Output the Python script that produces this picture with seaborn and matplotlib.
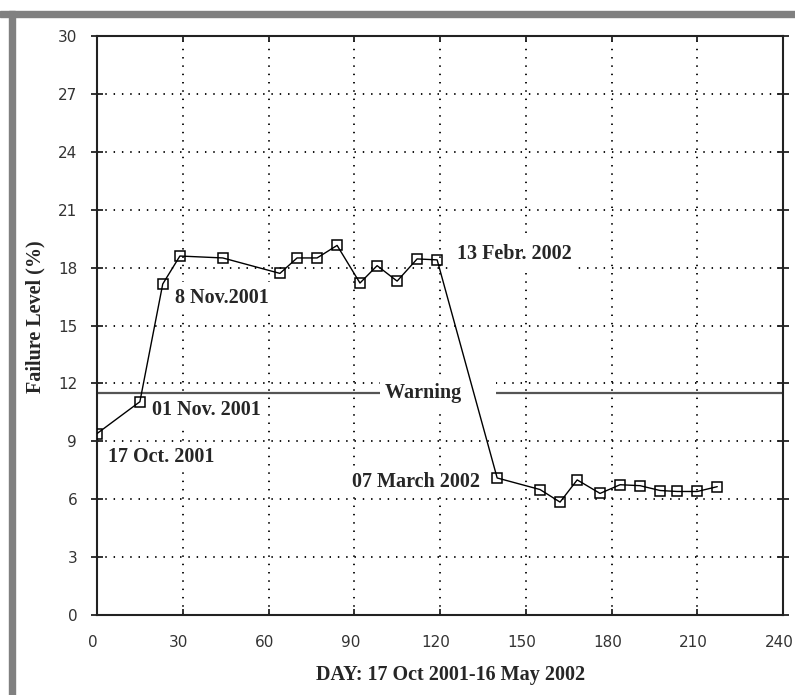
import matplotlib
matplotlib.use("Agg")
import matplotlib.pyplot as plt
import matplotlib.transforms as mtransforms
from matplotlib.patches import Rectangle
import seaborn as sns
import pandas as pd

# ---- data ----
days = [0, 15, 23, 29, 44, 64, 70, 77, 84, 92, 98, 105, 112, 119,
        140, 155, 162, 168, 176, 183, 190, 197, 203, 210, 217]
failure = [9.4, 11.05, 17.15, 18.6, 18.5, 17.7, 18.5, 18.5, 19.15, 17.2, 18.1, 17.3, 18.45, 18.4,
           7.1, 6.5, 5.85, 7.0, 6.3, 6.75, 6.7, 6.45, 6.4, 6.4, 6.65]
warning_level = 11.5
x_ticks = [0, 30, 60, 90, 120, 150, 180, 210, 240]
y_ticks = [0, 3, 6, 9, 12, 15, 18, 21, 24, 27, 30]
annotations = [
    ("8 Nov.2001", 27.3, 16.45),
    ("13 Febr. 2002", 126.0, 18.7),
    ("01 Nov. 2001", 19.2, 10.6),
    ("17 Oct. 2001", 3.8, 8.2),
    ("07 March 2002", 89.2, 6.9),
]
warning_label = ("Warning", 100.8, 11.5)
x_label = "DAY: 17 Oct 2001-16 May 2002"
y_label = "Failure Level (%)"

df = pd.DataFrame({"day": days, "failure": failure})

sns.set_style("ticks")
plt.rcParams["font.family"] = ["DejaVu Sans"]

fig = plt.figure(figsize=(7.95, 6.95), dpi=100)
fig.patch.set_facecolor("white")
ax = fig.add_axes([97/795, 1-615/695, (783-97)/795, (615-36)/695])

serif = "Liberation Serif"

# warning line with a gap around its label
ax.axhline(warning_level, color="#555555", lw=1.6, zorder=2)
ax.text(warning_label[1], warning_label[2], warning_label[0] + "      ",
        ha="left", va="center",
        fontsize=14.5, fontweight="bold", family=serif, zorder=2.5,
        bbox=dict(boxstyle="square,pad=0.25", fc="white", ec="none"))

sns.lineplot(data=df, x="day", y="failure", ax=ax, color="black", lw=1.0,
             marker="s", markersize=7.8, markerfacecolor="none",
             markeredgecolor="black", markeredgewidth=1.1, zorder=3)

for txt, x, y in annotations:
    ax.text(x, y, txt, ha="left", va="center", fontsize=14.5, fontweight="bold",
            family=serif, zorder=2.5,
            bbox=dict(boxstyle="square,pad=0.25", fc="white", ec="none"))

ax.set_xlim(0, 240)
ax.set_ylim(0, 30)
ax.set_xticks(x_ticks)
ax.set_yticks(y_ticks)
ax.grid(True, color="black", linestyle=(0, (0.8, 3.8)), lw=1.3, zorder=1)
ax.set_axisbelow(True)

for s in ax.spines.values():
    s.set_visible(True)
    s.set_linewidth(1.5)
    s.set_color("#222222")

ax.tick_params(axis="x", which="both", direction="in", length=4, width=1.3,
               pad=14.4, labelsize=11, labelcolor="#333333", top=True, color="#222222")
ax.tick_params(axis="y", which="both", direction="inout", length=8.6, width=1.3,
               pad=10, labelsize=11, labelcolor="#333333", right=True, color="#222222")

shift = mtransforms.ScaledTranslation(-4/100, 0, fig.dpi_scale_trans)
for lab in ax.get_xticklabels():
    lab.set_transform(lab.get_transform() + shift)

ax.set_xlabel(x_label, fontsize=14.5, fontweight="bold", family=serif)
ax.set_ylabel(y_label, fontsize=14.5, fontweight="bold", family=serif)
ax.xaxis.set_label_coords(0.515, -0.1036)
ax.xaxis.label.set_verticalalignment("center")
ax.yaxis.set_label_coords(-0.0904, 0.515)
ax.yaxis.label.set_verticalalignment("center")

# gray frame (top and left)
fig.patches.append(Rectangle((0, 1-17/695), 1, 6/695, transform=fig.transFigure,
                             color="#808080", zorder=0))
fig.patches.append(Rectangle((9/795, 0), 6/795, 1-11/695, transform=fig.transFigure,
                             color="#808080", zorder=0))

fig.savefig("out.png", dpi=100)
